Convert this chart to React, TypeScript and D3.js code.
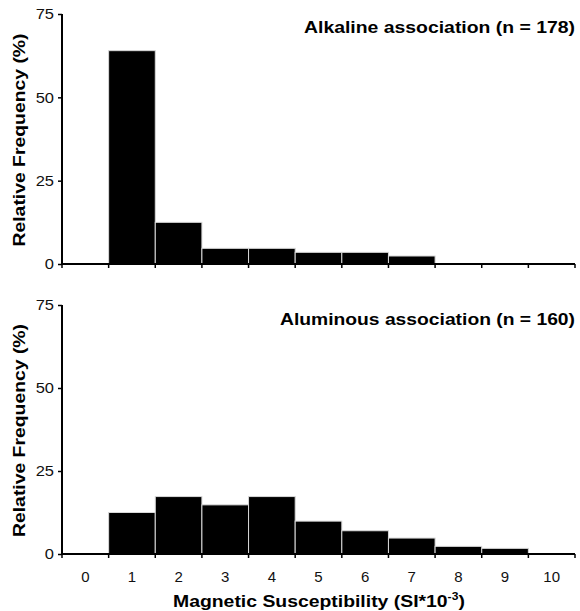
import React, { useEffect, useRef } from 'react';
import * as d3 from 'd3';

// bins of magnetic susceptibility (SI*10^-3)
const bins = ['0', '1', '2', '3', '4', '5', '6', '7', '8', '9', '10'];
const alkaline = [0, 64, 12.5, 4.7, 4.7, 3.5, 3.5, 2.4, 0, 0, 0];
const aluminous = [0, 12.5, 17.3, 14.8, 17.3, 9.9, 7.0, 4.8, 2.3, 1.7, 0];
const yTicks = [0, 25, 50, 75];
const panelTitles = ['Alkaline association (n = 178)', 'Aluminous association (n = 160)'];

const W = 580;
const H = 611;
const FONT = "'Liberation Sans', Arial, Helvetica, sans-serif";

// the original font runs wider than Arial, so stretch text to a target length
const stretch = (sel: any, factor: number) => {
  sel.each(function (this: SVGTextElement) {
    const len = this.getComputedTextLength();
    d3.select(this).attr('textLength', len * factor).attr('lengthAdjust', 'spacingAndGlyphs');
  });
};

const App = () => {
  const svgRef = useRef<SVGSVGElement>(null);

  useEffect(() => {
    const svg = d3.select(svgRef.current);
    svg.selectAll('*').remove();

    const left = 62;
    const right = 575;
    const x = d3.scaleBand<string>().domain(bins).range([left, right]).paddingInner(0).paddingOuter(0);

    const panels = [
      { values: alkaline, top: 14, bottom: 264, title: panelTitles[0], titleY: 33, titleW: 271, showLabels: false },
      { values: aluminous, top: 305, bottom: 554, title: panelTitles[1], titleY: 325, titleW: 295, showLabels: true },
    ];

    panels.forEach(p => {
      const y = d3.scaleLinear().domain([0, 75]).range([p.bottom, p.top]);
      const g = svg.append('g');

      // bars
      g.selectAll('rect.bar')
        .data(p.values.map((v, i) => ({ bin: bins[i], v })).filter(d => d.v > 0))
        .enter()
        .append('rect')
        .attr('class', 'bar')
        .attr('x', d => x(d.bin)!)
        .attr('width', x.bandwidth())
        .attr('y', d => y(d.v))
        .attr('height', d => y(0) - y(d.v))
        .attr('fill', '#000')
        .attr('stroke', '#d8d8d8')
        .attr('stroke-width', 1);

      // y axis
      g.append('g')
        .attr('transform', `translate(${left},0)`)
        .call(d3.axisLeft(y).tickValues(yTicks).tickSize(4).tickPadding(4))
        .call(a => a.select('.domain').attr('stroke-width', 2).attr('d', `M0,${p.top}V${p.bottom}`))
        .call(a => a.selectAll('.tick line').attr('stroke-width', 1.5))
        .call(a => {
          const t = a.selectAll('text').style('font-family', FONT).style('font-size', '15px').attr('fill', '#111');
          stretch(t, 1.1);
        });

      // x axis baseline with ticks at bin boundaries
      g.append('line')
        .attr('x1', left).attr('x2', right)
        .attr('y1', p.bottom).attr('y2', p.bottom)
        .attr('stroke', '#000').attr('stroke-width', 2);

      const edges = bins.map(b => x(b)!).concat([right]);
      g.selectAll('line.xtick')
        .data(edges)
        .enter()
        .append('line')
        .attr('class', 'xtick')
        .attr('x1', d => d).attr('x2', d => d)
        .attr('y1', p.bottom).attr('y2', p.bottom + 4)
        .attr('stroke', '#000').attr('stroke-width', 1.5);

      if (p.showLabels) {
        g.selectAll('text.xlabel')
          .data(bins)
          .enter()
          .append('text')
          .attr('class', 'xlabel')
          .attr('x', d => x(d)! + x.bandwidth() / 2)
          .attr('y', 582)
          .attr('text-anchor', 'middle')
          .style('font-family', FONT)
          .style('font-size', '15px')
          .attr('fill', '#111')
          .text(d => d);
      }

      // panel title
      g.append('text')
        .attr('x', right)
        .attr('y', p.titleY)
        .attr('text-anchor', 'end')
        .attr('textLength', p.titleW)
        .attr('lengthAdjust', 'spacingAndGlyphs')
        .style('font-family', FONT)
        .style('font-size', '17px')
        .style('font-weight', 'bold')
        .text(p.title);

      // y title
      g.append('text')
        .attr('transform', `translate(25,${(p.top + p.bottom) / 2 + 1}) rotate(-90)`)
        .attr('text-anchor', 'middle')
        .attr('textLength', 213)
        .attr('lengthAdjust', 'spacingAndGlyphs')
        .style('font-family', FONT)
        .style('font-size', '17px')
        .style('font-weight', 'bold')
        .text('Relative Frequency (%)');
    });

    // x title
    const xt = svg.append('text')
      .attr('x', 173)
      .attr('y', 607)
      .style('font-family', FONT)
      .style('font-size', '17px')
      .style('font-weight', 'bold');
    const main = xt.append('tspan').text('Magnetic Susceptibility (SI*10');
    stretch(main, 1.14);
    const sup = xt.append('tspan').attr('dy', -7).style('font-size', '11px').text('-3');
    stretch(sup, 1.1);
    const close = xt.append('tspan').attr('dy', 7).text(')');
    stretch(close, 1.14);
  }, []);

  return (
    <svg
      ref={svgRef}
      width={W}
      height={H}
      style={{ position: 'absolute', left: 0, top: 0, background: '#fff' }}
    />
  );
};

export default App;
